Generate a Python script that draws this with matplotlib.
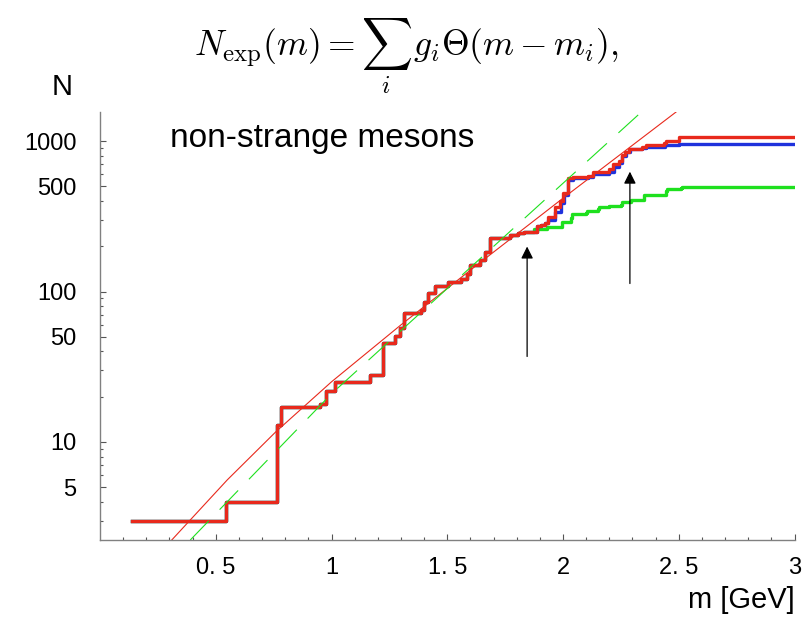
import numpy as np
import matplotlib.pyplot as plt
from matplotlib.ticker import FixedLocator, FixedFormatter, NullFormatter

plt.rcParams['mathtext.fontset'] = 'cm'
plt.rcParams['font.family'] = ['Liberation Sans', 'DejaVu Sans']

# steps common to all three curves: mass (GeV) and N after the step
m_low = [0.137, 0.545, 0.765, 0.782, 0.95, 0.975, 1.015, 1.165, 1.224, 1.274,
         1.296, 1.315, 1.385, 1.40, 1.418, 1.447, 1.505, 1.56, 1.585, 1.598,
         1.64, 1.665, 1.685, 1.77, 1.806, 1.83]
n_low = [3, 4, 13, 17, 18, 21.7, 25, 28, 45.5, 50.5,
         57, 72.5, 75.5, 85, 97, 109, 115, 122, 131, 149,
         162, 184, 226, 237, 246, 250]

# red (top) curve above 1.83 GeV
red_m = [1.886, 1.905, 1.922, 1.935, 1.965, 1.985, 2.0, 2.02, 2.045, 2.108,
         2.13, 2.20, 2.215, 2.24, 2.253, 2.268, 2.283, 2.34, 2.36, 2.435,
         2.445, 2.5]
red_n = [271, 278, 285, 313, 363, 400, 450, 565, 578, 590,
         622, 650, 700, 740, 810, 850, 880, 920, 935, 975,
         1000, 1070]

# blue curve above 1.83 GeV
blue_m = [1.886, 1.905, 1.922, 1.935, 1.965, 1.99, 2.005, 2.02, 2.045, 2.108,
          2.13, 2.20, 2.22, 2.24, 2.253, 2.27, 2.29, 2.34, 2.36, 2.44, 2.5]
blue_n = [271, 278, 285, 300, 340, 390, 440, 555, 570, 580,
          605, 625, 672, 720, 790, 840, 880, 905, 920, 940, 955]

# green curve above 1.83 GeV
green_m = [1.875, 1.93, 1.994, 2.035, 2.04, 2.10, 2.105, 2.15, 2.155, 2.20,
           2.25, 2.255, 2.295, 2.35, 2.445, 2.45, 2.51, 2.515]
green_n = [259, 268, 288, 306, 325, 335, 345, 355, 362, 368,
           378, 395, 405, 440, 465, 480, 490, 497]

m_end = 3.0

# thin red fit curve
fit_m = [0.31, 0.55, 0.76, 1.0, 1.3, 1.64, 2.0, 2.49]
fit_n = [2.23, 5.6, 11.7, 25.1, 60, 155, 417, 1567]

# green dashed line
dash_m = [0.39, 1.0, 2.34]
dash_n = [2.23, 20.9, 1567]

# arrows: mass, tail N, tip N
arrow1 = (1.845, 37, 199)
arrow2 = (2.289, 113, 626)

RED = '#e8291c'
BLUE = '#1f32dc'
GREEN = '#1ee01e'


def steps(tail_m, tail_n):
    x = m_low + tail_m + [m_end]
    y = n_low + tail_n + [tail_n[-1]]
    return x, y


fig = plt.figure(figsize=(8.07, 6.17), dpi=100)
ax = fig.add_axes([100 / 807, 1 - 540 / 617, 694.5 / 807, 428 / 617])

x, y = steps(green_m, green_n)
ax.plot(x, y, drawstyle='steps-post', color=GREEN, lw=2.4)
x, y = steps(blue_m, blue_n)
ax.plot(x, y, drawstyle='steps-post', color=BLUE, lw=2.4)
x, y = steps(red_m, red_n)
ax.plot(x, y, drawstyle='steps-post', color=RED, lw=2.4)

ax.plot(fit_m, fit_n, color=RED, lw=0.8)
ax.plot(dash_m, dash_n, color=GREEN, lw=0.8, dashes=(24, 14))

for m, n0, n1 in (arrow1, arrow2):
    ax.annotate('', xy=(m, n1), xytext=(m, n0),
                arrowprops=dict(arrowstyle='-|>', color='black', lw=0.9,
                                mutation_scale=18, shrinkA=0, shrinkB=0))

ax.set_yscale('log')
ax.set_xlim(0, 3)
ax.set_ylim(2.23, 1560)

ax.xaxis.set_major_locator(FixedLocator([0.5, 1, 1.5, 2, 2.5, 3]))
ax.xaxis.set_major_formatter(FixedFormatter(['0. 5', '1', '1. 5', '2', '2. 5', '3']))
ax.xaxis.set_minor_locator(FixedLocator([i / 10 for i in range(1, 30)]))
ax.xaxis.set_minor_formatter(NullFormatter())

ax.yaxis.set_major_locator(FixedLocator([5, 10, 50, 100, 500, 1000]))
ax.yaxis.set_major_formatter(FixedFormatter(['5', '10', '50', '100', '500', '1000']))
ax.yaxis.set_minor_locator(FixedLocator([3, 4, 6, 7, 8, 9, 20, 30, 40, 60, 70, 80, 90,
                                         200, 300, 400, 600, 700, 800, 900]))
ax.yaxis.set_minor_formatter(NullFormatter())

ax.tick_params(which='both', direction='in', color='#555555', width=0.8)
ax.tick_params(which='major', length=4.5, labelsize=17)
ax.tick_params(which='minor', length=2.4)
ax.tick_params(axis='y', which='major', pad=17)
ax.tick_params(axis='x', which='major', pad=12)

for s in ['top', 'right']:
    ax.spines[s].set_visible(False)
for s in ['left', 'bottom']:
    ax.spines[s].set_color('#808080')
    ax.spines[s].set_linewidth(1.0)

fig.text(406 / 807, 1 - 17 / 617,
         r'$N_{\rm exp}(m) = \sum_i\, g_i \Theta(m - m_i),$',
         ha='center', va='top', fontsize=25.5)
fig.text(62 / 807, 1 - 87 / 617, 'N', ha='center', va='center', fontsize=21)
fig.text(170 / 807, 1 - 138 / 617, 'non-strange mesons', ha='left', va='center', fontsize=24)
fig.text(795 / 807, 1 - 600 / 617, 'm [GeV]', ha='right', va='center', fontsize=21)

fig.savefig('out.png', dpi=100)
